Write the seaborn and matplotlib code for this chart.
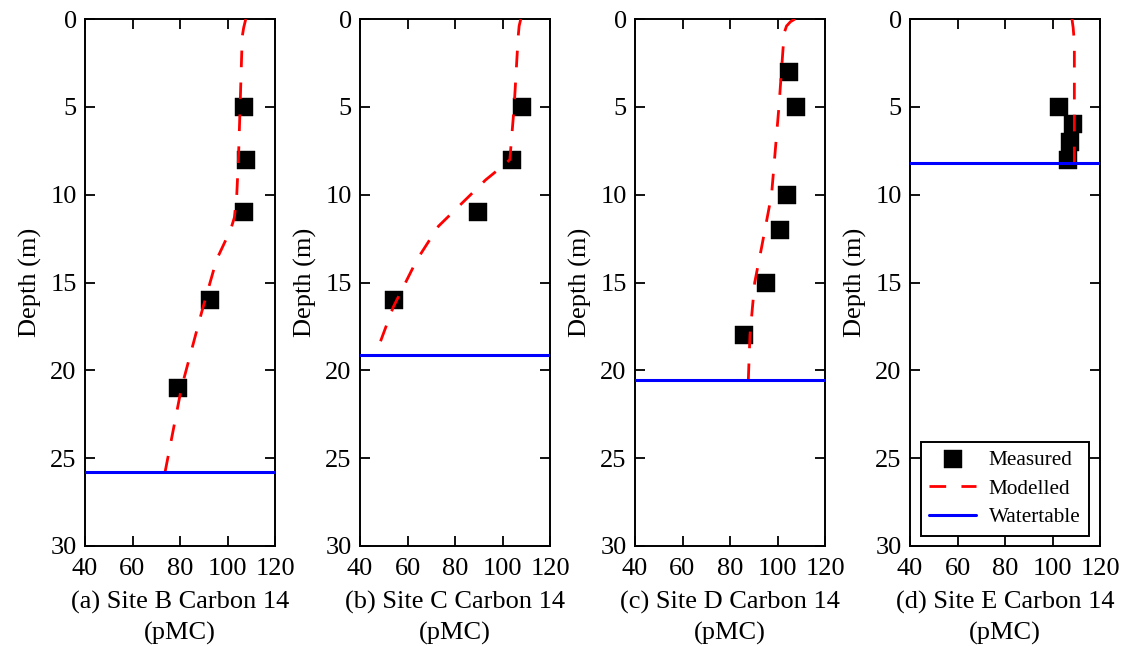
import matplotlib
matplotlib.use("Agg")
import matplotlib.pyplot as plt
import seaborn as sns
import pandas as pd

# ---- data -------------------------------------------------------------
panel_titles = ["(a) Site B Carbon 14\n(pMC)", "(b) Site C Carbon 14\n(pMC)",
                "(c) Site D Carbon 14\n(pMC)", "(d) Site E Carbon 14\n(pMC)"]

# measured carbon-14 (pMC) against depth (m)
meas_b_depth = [5, 8, 11, 16, 21]
meas_b_pmc = [107, 107.8, 107, 92.6, 79]
meas_c_depth = [5, 8, 11, 16]
meas_c_pmc = [108.4, 103.9, 89.7, 54.3]
meas_d_depth = [3, 5, 10, 12, 15, 18]
meas_d_pmc = [104.8, 107.8, 104, 101, 95.2, 86]
meas_e_depth = [5, 6, 7, 8]
meas_e_pmc = [102.8, 108.7, 107.2, 106.6]

# modelled profiles
mod_b_depth = [0, 0.5, 1, 5, 8, 10, 11.3, 12, 13.7, 16.7, 21, 25.8]
mod_b_pmc = [107.7, 106.8, 106.2, 105.3, 104.6, 103.9, 102.9, 101.3, 95.4, 89.1, 80.6, 73.7]
mod_c_depth = [0, 0.4, 1.0, 5, 8.0, 8.3, 9.16, 10, 11.8, 13.7, 16.4, 18.4]
mod_c_pmc = [107.7, 107.0, 106.6, 104.9, 103.1, 100.7, 92.9, 86.6, 73, 64, 54, 48.5]
mod_d_depth = [0, 0.15, 0.4, 0.8, 5, 10, 12, 13, 15, 18, 20.6]
mod_d_pmc = [107.4, 105.5, 103.8, 102.8, 100.6, 97.5, 94.7, 93.3, 90.4, 88.4, 87.7]
mod_e_depth = [0, 0.5, 1.0, 1.5, 8.2]
mod_e_pmc = [108.2, 108.7, 109.0, 109.2, 109.2]

# water table depth (m)
watertable = [25.8, 19.1, 20.57, 8.2]

x_ticks = [40, 60, 80, 100, 120]
y_ticks = [0, 5, 10, 15, 20, 25, 30]

measured = [(meas_b_pmc, meas_b_depth), (meas_c_pmc, meas_c_depth),
            (meas_d_pmc, meas_d_depth), (meas_e_pmc, meas_e_depth)]
modelled = [(mod_b_pmc, mod_b_depth), (mod_c_pmc, mod_c_depth),
            (mod_d_pmc, mod_d_depth), (mod_e_pmc, mod_e_depth)]

# ---- style ------------------------------------------------------------
sns.set_style("ticks")
plt.rcParams["font.family"] = ["Liberation Serif", "DejaVu Serif"]
for key in ("text.color", "axes.labelcolor", "xtick.color", "ytick.color",
            "axes.edgecolor"):
    plt.rcParams[key] = "black"

W, H = 1135, 646
fig = plt.figure(figsize=(W / 100, H / 100), dpi=100)

lefts = [85, 360, 635, 910]
ax_w, ax_top, ax_bot = 190, 19, 546

for i in range(4):
    ax = fig.add_axes([lefts[i] / W, 1 - ax_bot / H, ax_w / W, (ax_bot - ax_top) / H])
    mx, my = measured[i]
    sns.scatterplot(x=mx, y=my, marker="s", s=150, color="black",
                    edgecolor="black", linewidth=0.3, ax=ax, zorder=3,
                    label="Measured")
    lx, ly = modelled[i]
    df = pd.DataFrame({"pmc": lx, "depth": ly})
    sns.lineplot(data=df, x="pmc", y="depth", orient="y", sort=False,
                 estimator=None, color="red", lw=2.0,
                 linestyle=(0, (6, 5.5)), ax=ax, zorder=4,
                 label="Modelled")
    ax.axhline(watertable[i], color="blue", lw=2.2, zorder=5, label="Watertable")

    ax.set_xlim(40, 120)
    ax.set_ylim(30, 0)
    ax.set_xticks(x_ticks)
    ax.set_yticks(y_ticks)
    ax.tick_params(direction="in", top=True, right=True, length=7,
                   width=1.3, labelsize=19, colors="black")
    ax.tick_params(axis="x", pad=8.5)
    ax.tick_params(axis="y", pad=6)
    for sp in ax.spines.values():
        sp.set_linewidth(1.4)
        sp.set_color("black")
    ax.set_xlabel(panel_titles[i], fontsize=19, labelpad=8, linespacing=1.45)
    ax.set_ylabel("Depth (m)", fontsize=19, labelpad=6)

    if i == 3:
        leg = ax.legend(loc="lower right", bbox_to_anchor=(0.942, 0.019),
                        borderaxespad=0, fontsize=15.3, frameon=True,
                        fancybox=False, edgecolor="black", framealpha=1,
                        handlelength=2.2, handletextpad=0.6, labelspacing=0.42,
                        borderpad=0.4, markerfirst=True)
        leg.get_frame().set_linewidth(1.4)
    else:
        ax.get_legend().remove()

fig.savefig("out.png", dpi=100)
